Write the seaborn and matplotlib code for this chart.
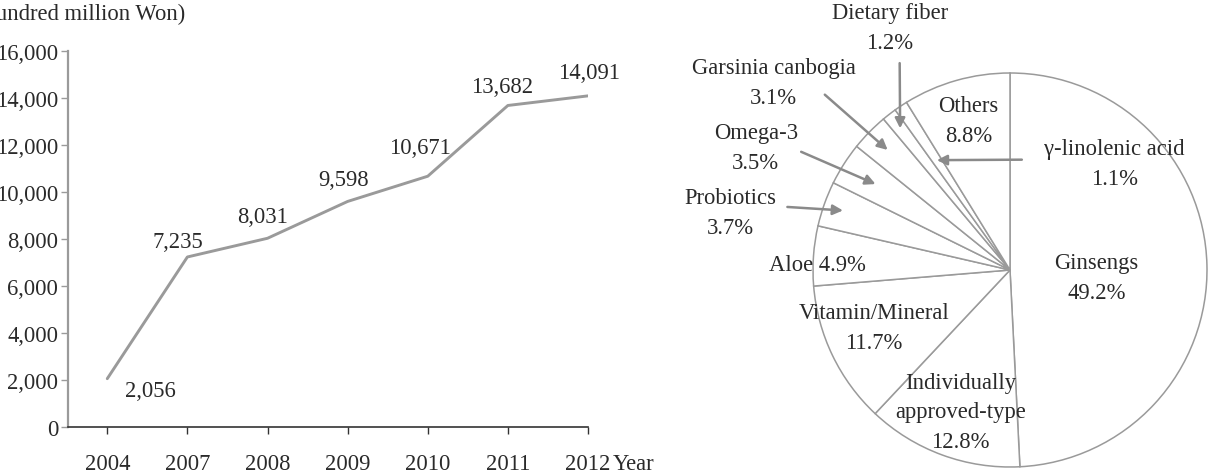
import numpy as np
import pandas as pd
import matplotlib
matplotlib.use("Agg")
import matplotlib.pyplot as plt
from matplotlib.ticker import FuncFormatter
import seaborn as sns

# line chart data: health functional food market size (hundred million Won)
years = ["2004", "2007", "2008", "2009", "2010", "2011", "2012"]
sales = [2056, 7235, 8031, 9598, 10671, 13682, 14091]

# pie chart data: share by ingredient, clockwise from 12 o'clock
items = ["Ginsengs", "Individually\napproved-type", "Vitamin/Mineral", "Aloe",
         "Probiotics", "Omega-3", "Garsinia canbogia", "Dietary fiber",
         "γ-linolenic acid", "Others"]
shares = [49.2, 12.8, 11.7, 4.9, 3.7, 3.5, 3.1, 1.2, 1.1, 8.8]

W, H = 1208, 477
TXT = "#2a2a2a"
GRAY = "#9a9a9a"
FS = 16.3
LS = 1.55

sns.set_theme(style="ticks")
plt.rcParams["font.family"] = ["Liberation Serif", "DejaVu Serif"]
plt.rcParams["font.size"] = FS

fig = plt.figure(figsize=(W / 100, H / 100), dpi=100)

# ---- left: line chart ----
ax1 = fig.add_axes([68 / W, (H - 428) / H, 520 / W, 376 / H])
df = pd.DataFrame({"pos": np.arange(len(years)), "sales": sales})
sns.lineplot(data=df, x="pos", y="sales", ax=ax1, color=GRAY, linewidth=2.1)

ax1.set_xlim(-0.49, 6)
ax1.set_ylim(0, 16000)
ax1.set_xticks(df["pos"], years)
ax1.set_yticks(np.arange(0, 16001, 2000))
ax1.yaxis.set_major_formatter(FuncFormatter(lambda v, _: f"{int(v):,}"))
ax1.set_xlabel("")
ax1.set_ylabel("")
for s in ["top", "right"]:
    ax1.spines[s].set_visible(False)
ax1.spines["left"].set_color(GRAY)
ax1.spines["left"].set_linewidth(1.6)
ax1.spines["bottom"].set_color("#333333")
ax1.spines["bottom"].set_linewidth(1.2)
ax1.tick_params(axis="x", length=5, width=1, color="#333333", pad=14, labelsize=FS, labelcolor=TXT)
ax1.tick_params(axis="y", length=5, width=1, color=GRAY, pad=2, labelsize=FS, labelcolor=TXT)

# value labels (offsets in pixels)
label_off = [(43, -12), (-10, 15), (-5, 22), (-4, 22), (-8, 29), (-6, 19), (1, 23)]
for x, v, (dx, dy) in zip(df["pos"], sales, label_off):
    ax1.annotate(f"{v:,}", xy=(x, v), xytext=(dx, dy), textcoords="offset pixels",
                 ha="center", va="center", fontsize=FS, color=TXT)

fig.text(185 / W, 1 - 14 / H, "(Hundred million Won)", ha="right", va="center",
         fontsize=FS, color=TXT)
# axis unit next to the last tick label, same baseline as the tick labels
ax1.annotate("Year", xy=(1, 0), xycoords="axes fraction", xytext=(18, -19),
             textcoords="offset points", ha="left", va="top", fontsize=FS, color=TXT)

# ---- right: pie chart ----
cx, cy, R = 1010, 271, 197
ax2 = fig.add_axes([(cx - R) / W, (H - cy - R) / H, 2 * R / W, 2 * R / H])
wedges, _ = ax2.pie(shares, startangle=90, counterclock=False,
                    wedgeprops=dict(facecolor="white", edgecolor=GRAY, linewidth=1.1))
ax2.set_xlim(-1, 1)
ax2.set_ylim(-1, 1)
ax2.set_aspect("auto")

# text placement in units of the radius
inside = {
    "Ginsengs": (0.44, -0.04),
    "Individually\napproved-type": (-0.25, -0.72),
    "Vitamin/Mineral": (-0.69, -0.29),
    "Others": (-0.21, 0.76),
}
callouts = {
    "Probiotics": ((-1.42, 0.29), (-1.13, 0.32), 0.90),
    "Omega-3": ((-1.29, 0.62), (-1.06, 0.60), 0.81),
    "Garsinia canbogia": ((-1.20, 0.95), (-0.94, 0.89), 0.87),
    "Dietary fiber": ((-0.61, 1.23), (-0.56, 1.05), 0.91),
    "γ-linolenic acid": ((0.53, 0.54), (0.06, 0.56), 0.67),
}

for w, name, pct in zip(wedges, items, shares):
    lab = f"{name}\n{pct}%"
    if name in inside:
        x, y = inside[name]
        ax2.text(x, y, lab, ha="center", va="center", fontsize=FS, color=TXT,
                 linespacing=LS)
    elif name == "Aloe":
        ax2.text(-0.98, 0.03, f"{name} {pct}%", ha="center", va="center",
                 fontsize=FS, color=TXT)
    else:
        (tx, ty), (sx, sy), rt = callouts[name]
        ax2.text(tx, ty, lab, ha="center", va="center", fontsize=FS, color=TXT,
                 linespacing=LS)
        mid = np.deg2rad((w.theta1 + w.theta2) / 2)
        ax2.annotate("", xy=(rt * np.cos(mid), rt * np.sin(mid)), xytext=(sx, sy),
                     arrowprops=dict(arrowstyle="-|>", color="#8a8a8a", lw=1.8,
                                     mutation_scale=15, shrinkA=0, shrinkB=0))

fig.savefig("out.png", dpi=100)
